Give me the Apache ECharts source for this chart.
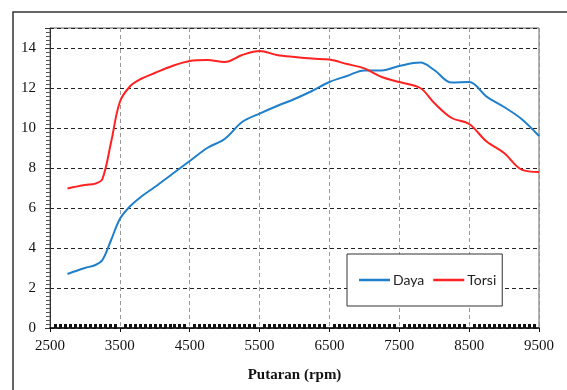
<!DOCTYPE html>
<html>
<head>
<meta charset="utf-8">
<script src="https://cdn.jsdelivr.net/npm/echarts@6/dist/echarts.min.js"></script>
<style>
  html, body { margin: 0; padding: 0; background: #fff; }
  #chart { width: 567px; height: 390px; }
</style>
</head>
<body>
<div id="chart"></div>
<script>
// rpm sample points
const rpm = [2750, 3000, 3150, 3250, 3375, 3500, 3650, 3800, 4000, 4250, 4500, 4750, 5000, 5250, 5500,
  5750, 6000, 6250, 6500, 6750, 7000, 7250, 7500, 7800, 8000, 8250, 8500, 8750, 9000, 9250, 9500];

const daya = [2.7, 3.0, 3.15, 3.4, 4.4, 5.45, 6.1, 6.55, 7.05, 7.7, 8.35, 9.0, 9.45, 10.3, 10.72,
  11.1, 11.45, 11.85, 12.3, 12.6, 12.88, 12.88, 13.1, 13.27, 12.9, 12.27, 12.3, 11.57, 11.05, 10.45, 9.6];

const torsi = [6.98, 7.15, 7.22, 7.45, 9.3, 11.3, 12.1, 12.45, 12.75, 13.1, 13.35, 13.4, 13.3, 13.65, 13.85,
  13.65, 13.55, 13.47, 13.42, 13.2, 12.98, 12.55, 12.3, 12.0, 11.25, 10.5, 10.2, 9.32, 8.75, 7.92, 7.8];

const seriesNames = ['Daya', 'Torsi'];
const xTitle = 'Putaran (rpm)';

const chart = echarts.init(document.getElementById('chart'));

const pair = (vals) => rpm.map((r, i) => [r, vals[i]]);

const serif = 'Liberation Serif';

chart.setOption({
  animation: false,
  textStyle: { fontFamily: serif },
  graphic: [{
    type: 'rect',
    shape: { x: 13, y: 12, width: 600, height: 400 },
    style: { fill: 'none', stroke: '#333', lineWidth: 1.5 },
    silent: true
  }],
  grid: {
    left: 50, right: 28, top: 28, bottom: 62,
    show: true, borderColor: '#666', borderWidth: 1
  },
  legend: {
    left: 347, top: 254,
    orient: 'horizontal',
    data: seriesNames,
    icon: 'rect',
    itemWidth: 31, itemHeight: 2.5, itemGap: 9,
    padding: [18, 6, 18, 12],
    borderColor: '#333', borderWidth: 1,
    backgroundColor: '#fff',
    textStyle: { fontFamily: 'Lato', fontSize: 14, color: '#222', lineHeight: 16, padding: [0, 0, 0, -2] }
  },
  xAxis: [{
    type: 'value',
    min: 2500, max: 9500, interval: 1000,
    name: xTitle,
    nameLocation: 'middle',
    nameGap: 40,
    nameTextStyle: { fontFamily: serif, fontWeight: 'bold', fontSize: 15, color: '#111' },
    axisLine: { lineStyle: { color: '#111', width: 1.5 } },
    axisTick: { show: true, length: 4, lineStyle: { color: '#111' } },
    axisLabel: { fontFamily: serif, fontSize: 15, color: '#111', margin: 11, formatter: (v) => String(v) },
    splitLine: { show: true, lineStyle: { color: '#999', type: [4, 3], width: 1 } }
  }, {
    // overlay axis only for the dense inward minor ticks
    type: 'value',
    min: 2500, max: 9500, interval: 1000,
    position: 'bottom',
    axisLine: { show: false },
    axisTick: { show: false, inside: true },
    minorTick: { show: true, splitNumber: 14, length: 4, lineStyle: { color: '#111', width: 3 } },
    axisLabel: { show: false },
    splitLine: { show: false }
  }],
  yAxis: {
    type: 'value',
    min: 0, max: 15, interval: 2,
    axisLine: { show: true, lineStyle: { color: '#333', width: 1 } },
    axisTick: { show: true, length: 5, lineStyle: { color: '#333' } },
    minorTick: { show: true, splitNumber: 10, length: 4, lineStyle: { color: '#555' } },
    axisLabel: {
      fontFamily: serif, fontSize: 15, color: '#111', margin: 14,
      formatter: (v) => (v % 2 === 0 ? String(v) : '')
    },
    splitLine: { show: true, lineStyle: { color: '#222', type: [4, 3], width: 1 } }
  },
  series: [{
    name: seriesNames[0],
    type: 'line',
    data: pair(daya),
    smooth: 0.35,
    symbol: 'none',
    lineStyle: { color: '#1f7fcb', width: 2 },
    itemStyle: { color: '#1f7fcb' },
    z: 3
  }, {
    name: seriesNames[1],
    type: 'line',
    data: pair(torsi),
    smooth: 0.35,
    symbol: 'none',
    lineStyle: { color: '#ff2222', width: 2 },
    itemStyle: { color: '#ff2222' },
    z: 3
  }]
});
</script>
</body>
</html>
